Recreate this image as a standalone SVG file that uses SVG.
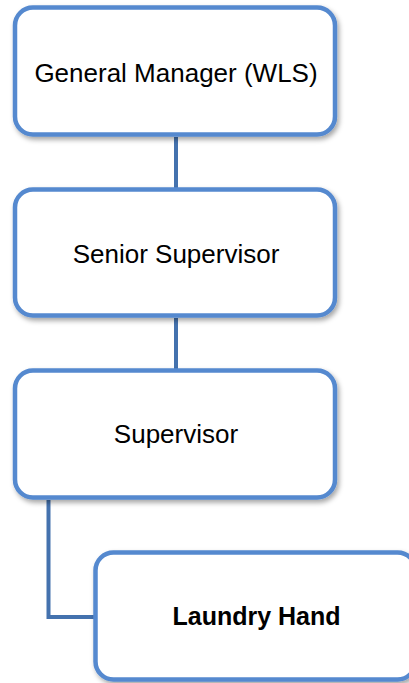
<svg xmlns="http://www.w3.org/2000/svg" width="409" height="683" viewBox="0 0 409 683">
<defs>
<filter id="sh" x="-10%" y="-10%" width="125%" height="130%">
<feDropShadow dx="2" dy="3" stdDeviation="2.5" flood-color="#000" flood-opacity="0.35"/>
</filter>
</defs>
<style>
.box{fill:#fff;stroke:#5589CF;stroke-width:4.5;filter:url(#sh)}
.conn{fill:none;stroke:#4472AE;stroke-width:4}
.t{font-family:"Liberation Sans",Arial,sans-serif;font-size:26px;fill:#000;text-anchor:middle}
.b{font-weight:bold;font-size:25px}
</style>
<g id="connectors">
<path class="conn" d="M176 137V188"/>
<path class="conn" d="M176 318V369"/>
<path class="conn" d="M48.5 500V617H94"/>
</g>
<g id="gm">
<rect class="box" x="15" y="7.5" width="320" height="127" rx="18"/>
<text class="t" x="176" y="82">General Manager (WLS)</text>
</g>
<g id="senior">
<rect class="box" x="15" y="189.5" width="320" height="126" rx="18"/>
<text class="t" x="176" y="263">Senior Supervisor</text>
</g>
<g id="supervisor">
<rect class="box" x="15" y="370.5" width="320" height="127" rx="18"/>
<text class="t" x="176" y="443">Supervisor</text>
</g>
<g id="laundry">
<rect class="box" x="95.5" y="552.5" width="320" height="127" rx="18"/>
<text class="t b" x="256.5" y="625">Laundry Hand</text>
</g>
</svg>
